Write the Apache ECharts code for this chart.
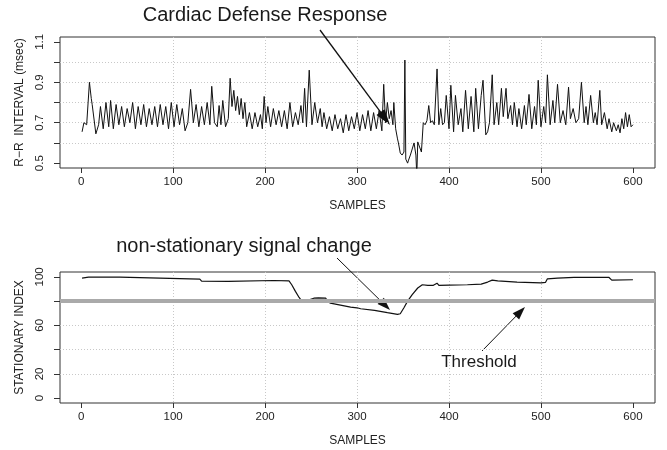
<!DOCTYPE html>
<html>
<head>
<meta charset="utf-8">
<script src="https://cdn.jsdelivr.net/npm/echarts@6/dist/echarts.min.js"></script>
<style>
	html, body { margin: 0; padding: 0; background: #fff; }
	#chart { width: 667px; height: 450px; }
</style>
</head>
<body>
<div id="chart"></div>
<script>
var FONT = '"Liberation Sans", Arial, sans-serif';

// R-R interval (msec)
var rrX = [1, 3, 5, 6, 9, 11, 12, 14, 16,
	19, 21, 24, 27, 30, 32, 35, 38, 41, 44, 47, 50, 53, 56, 59, 62, 65, 68, 71, 74, 77, 80, 83, 86, 89, 92, 95, 98, 101, 104, 107, 110, 113, 116,
	119, 122, 125, 128, 131, 134, 137, 140, 142, 145, 148, 150, 152, 154, 157, 160, 162, 164, 166, 168, 170, 172, 174, 176, 178, 180, 183, 186, 189, 192, 195, 197, 199,
	201, 203, 206, 209, 212, 215, 218, 221, 224, 227, 230, 233, 236, 239, 241, 243, 245, 248, 251, 254, 257, 260, 262,
	264, 267, 270, 273, 276, 279, 282, 285, 288, 291, 294, 297, 300, 303, 306, 309, 312, 315, 318, 321, 324, 327,
	329, 331, 333, 335, 337, 339, 340, 342, 344, 345, 347, 349, 351, 352, 353, 355, 356, 358, 360, 362, 364, 365, 366, 368, 370, 372,
	374, 376, 378, 380, 382, 384, 387, 389, 391, 393, 395, 397, 400, 402, 405, 407, 410, 413, 415, 418, 421, 424, 427, 429, 432, 435, 437, 440, 442,
	444, 447, 449, 452, 454, 457, 459, 462, 464, 467, 469, 471, 474, 476, 479, 482, 484, 487, 490, 493, 495, 497, 500, 503, 505, 507, 510, 513, 515, 518, 521, 524, 527, 530, 532, 535, 538, 541, 544, 547, 549, 551, 554, 557, 559, 561, 564, 566, 569, 572, 574, 577, 579, 582, 584, 586, 588, 590, 592, 594, 596, 598, 600];
var rrY = [0.655, 0.70, 0.705, 0.69, 0.90, 0.82, 0.79, 0.79, 0.645,
	0.69, 0.78, 0.67, 0.80, 0.68, 0.81, 0.67, 0.79, 0.69, 0.78, 0.68, 0.77, 0.70, 0.80, 0.67, 0.78, 0.69, 0.79, 0.68, 0.77, 0.69, 0.78, 0.68, 0.79, 0.69, 0.78, 0.67, 0.80, 0.68, 0.79, 0.69, 0.77, 0.66, 0.70,
	0.865, 0.70, 0.79, 0.68, 0.78, 0.69, 0.80, 0.69, 0.88, 0.70, 0.68, 0.785, 0.69, 0.81, 0.68, 0.72, 0.92, 0.78, 0.86, 0.76, 0.83, 0.74, 0.82, 0.72, 0.80, 0.68, 0.75, 0.67, 0.75, 0.68, 0.74, 0.67, 0.83,
	0.70, 0.78, 0.68, 0.77, 0.69, 0.76, 0.68, 0.76, 0.67, 0.80, 0.68, 0.75, 0.69, 0.785, 0.70, 0.87, 0.68, 0.96, 0.69, 0.80, 0.70, 0.77, 0.68,
	0.75, 0.67, 0.73, 0.66, 0.74, 0.67, 0.72, 0.65, 0.74, 0.66, 0.73, 0.67, 0.75, 0.66, 0.74, 0.67, 0.76, 0.66, 0.75, 0.67, 0.76, 0.66,
	0.89, 0.70, 0.80, 0.72, 0.76, 0.69, 0.80, 0.67, 0.62, 0.60, 0.55, 0.54, 0.555, 1.01, 0.52, 0.50, 0.515, 0.54, 0.57, 0.60, 0.54, 0.44, 0.605, 0.61, 0.555, 0.70,
	0.69, 0.71, 0.785, 0.70, 0.71, 0.69, 0.966, 0.69, 0.77, 0.69, 0.70, 0.835, 0.67, 0.885, 0.655, 0.835, 0.69, 0.77, 0.655, 0.86, 0.67, 0.83, 0.655, 0.87, 0.67, 0.835, 0.91, 0.64, 0.655,
	0.70, 0.937, 0.69, 0.80, 0.69, 0.87, 0.73, 0.87, 0.72, 0.785, 0.69, 0.80, 0.68, 0.77, 0.67, 0.785, 0.69, 0.84, 0.67, 0.78, 0.69, 0.91, 0.68, 0.78, 0.70, 0.937, 0.69, 0.81, 0.70, 0.89, 0.70, 0.76, 0.69, 0.876, 0.72, 0.77, 0.70, 0.72, 0.90, 0.70, 0.78, 0.69, 0.835, 0.70, 0.75, 0.69, 0.86, 0.69, 0.75, 0.67, 0.72, 0.655, 0.70, 0.66, 0.69, 0.65, 0.72, 0.67, 0.75, 0.68, 0.74, 0.68, 0.69];

// stationary index
var stX = [1, 8, 42, 44, 129, 131, 160, 162, 209, 211, 226, 229, 233, 237, 239, 244, 248, 253, 258, 266, 268, 271, 282, 293, 300, 304, 319, 333, 344, 347, 351, 355, 360, 366, 371, 377, 383, 385, 387, 389, 400, 420, 435, 442, 447, 453, 474, 500, 505, 507, 518, 536, 574, 577, 600];
var stY = [98.9, 99.7, 99.7, 98.4, 98.2, 96.5, 96.2, 97.6, 97.0, 96.7, 96.7, 93.5, 88, 83, 81, 80.5, 81, 82.4, 82.7, 82.4, 80, 78.3, 76.7, 75, 74.5, 73.7, 72.4, 70.5, 69.1, 69.6, 74.5, 80, 85.4, 90.8, 93.5, 93, 93, 93.2, 94.8, 93, 93.2, 93.5, 94, 95.7, 97.3, 96.7, 95.7, 95.1, 95.5, 98.4, 98.9, 99.5, 99.5, 97.3, 97.6];

var threshold = 80;

var sampleTicks = [0, 100, 200, 300, 400, 500, 600];
var rrTicks = [0.5, 0.6, 0.7, 0.8, 0.9, 1.0, 1.1];
var rrLabels = [0.5, 0.7, 0.9, 1.1];
var stTicks = [0, 20, 40, 60, 80, 100];
var stLabels = [0, 20, 60, 100];

function zip(xs, ys) {
	var out = [];
	for (var i = 0; i < xs.length; i++) out.push([xs[i], ys[i]]);
	return out;
}

function sampleAxis(gridIndex) {
	return {
		type: 'value',
		gridIndex: gridIndex,
		min: -23,
		max: 624,
		name: 'SAMPLES',
		nameLocation: 'middle',
		nameGap: 32,
		nameTextStyle: { fontFamily: FONT, fontSize: 12, color: '#222' },
		axisLine: { show: false, onZero: false },
		axisTick: { length: 5, lineStyle: { color: '#333' }, customValues: sampleTicks },
		axisLabel: { margin: 8, fontFamily: FONT, fontSize: 11.5, color: '#222', customValues: sampleTicks },
		splitLine: { show: true, showMinLine: false, showMaxLine: false, lineStyle: { color: '#c8c8c8', type: [1, 2] } }
	};
}

function valueAxis(gridIndex, min, max, ticks, labels, name) {
	return {
		type: 'value',
		gridIndex: gridIndex,
		min: min,
		max: max,
		name: name,
		nameLocation: 'middle',
		nameRotate: 90,
		nameGap: 34,
		nameTextStyle: { fontFamily: FONT, fontSize: 12, color: '#222' },
		axisLine: { show: false, onZero: false },
		axisTick: { length: 6, lineStyle: { color: '#333' }, customValues: ticks },
		axisLabel: { rotate: 90, margin: 14, fontFamily: FONT, fontSize: 11.5, color: '#222', customValues: labels },
		splitLine: { show: true, showMinLine: false, showMaxLine: false, lineStyle: { color: '#c8c8c8', type: [1, 2] } }
	};
}

// line plus filled head, pixel positions of the annotations
function arrow(x1, y1, x2, y2, w, len, half) {
	var dx = x2 - x1, dy = y2 - y1;
	var d = Math.sqrt(dx * dx + dy * dy);
	var ux = dx / d, uy = dy / d;
	var bx = x2 - ux * len, by = y2 - uy * len;
	return [{
		type: 'line',
		silent: true,
		shape: { x1: x1, y1: y1, x2: bx + ux * 2, y2: by + uy * 2 },
		style: { stroke: '#111', lineWidth: w }
	}, {
		type: 'polygon',
		silent: true,
		shape: { points: [[x2, y2], [bx - uy * half, by + ux * half], [bx + uy * half, by - ux * half]] },
		style: { fill: '#111' }
	}];
}

function label(text, x, y, size) {
	return {
		type: 'text',
		silent: true,
		x: x,
		y: y,
		style: {
			text: text,
			font: size + 'px ' + FONT,
			fill: '#1a1a1a',
			textAlign: 'center',
			textVerticalAlign: 'middle',
			align: 'center',
			verticalAlign: 'middle'
		}
	};
}

var chart = echarts.init(document.getElementById('chart'), null, { renderer: 'canvas' });

var graphics = [
	label('Cardiac Defense Response', 265, 15, 20),
	label('non-stationary signal change', 244, 246, 20),
	label('Threshold', 479, 362, 17)
].concat(
	arrow(320, 30, 390, 125, 1.3, 16, 5),
	arrow(337, 258, 390, 310, 1, 13, 4.5),
	arrow(482, 351, 525, 307, 1, 13, 4.5)
);

chart.setOption({
	animation: false,
	backgroundColor: '#fff',
	grid: [
		{ left: 60, top: 37, width: 595, height: 131, show: true, borderColor: '#333', borderWidth: 1 },
		{ left: 60, top: 272, width: 595, height: 131, show: true, borderColor: '#333', borderWidth: 1 }
	],
	xAxis: [sampleAxis(0), sampleAxis(1)],
	yAxis: [
		valueAxis(0, 0.476, 1.124, rrTicks, rrLabels, 'R\u2212R  INTERVAL (msec)'),
		valueAxis(1, -4, 104, stTicks, stLabels, 'STATIONARY INDEX')
	],
	series: [{
		name: 'R-R',
		type: 'line',
		xAxisIndex: 0,
		yAxisIndex: 0,
		data: zip(rrX, rrY),
		showSymbol: false,
		clip: true,
		lineStyle: { color: '#111', width: 1 }
	}, {
		name: 'Stationary index',
		type: 'line',
		xAxisIndex: 1,
		yAxisIndex: 1,
		data: zip(stX, stY),
		showSymbol: false,
		clip: true,
		lineStyle: { color: '#111', width: 1.2 },
		markLine: {
			silent: true,
			symbol: 'none',
			label: { show: false },
			lineStyle: { color: '#aaa', width: 4, type: 'solid' },
			data: [{ yAxis: threshold }]
		}
	}],
	graphic: graphics
});
</script>
</body>
</html>
